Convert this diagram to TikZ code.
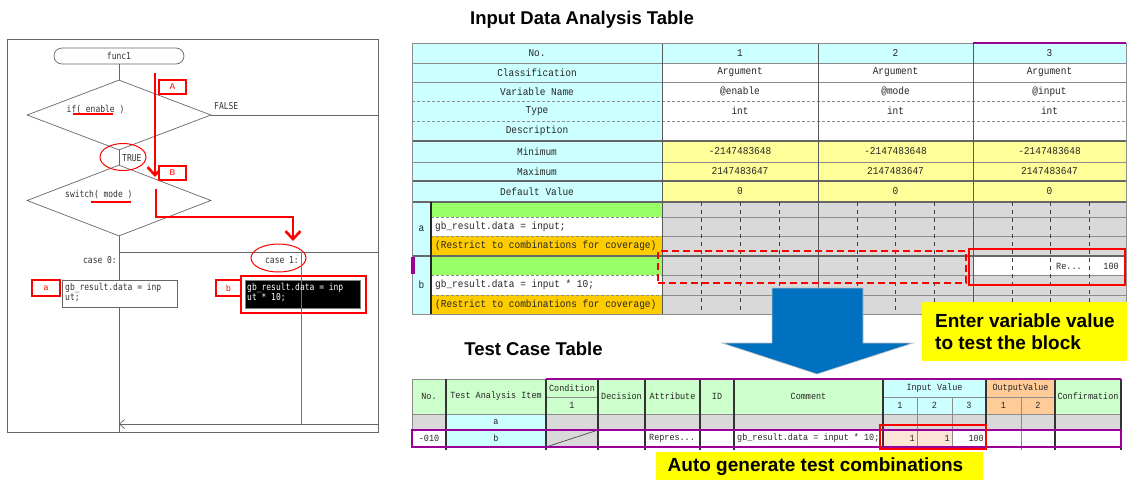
\documentclass[tikz,border=0pt]{standalone}
\usepackage{fontspec}
\setmainfont{Liberation Sans}
\newfontfamily\fcmono[FakeStretch=0.84]{DejaVu Sans Mono}
\newfontfamily\tbmono[FakeStretch=0.9]{Liberation Mono}
\usetikzlibrary{shapes.geometric,arrows.meta}
\definecolor{cyanc}{HTML}{CCFFFF}
\definecolor{yelc}{HTML}{FFFF99}
\definecolor{grnc}{HTML}{99FF66}
\definecolor{orgc}{HTML}{FFCC00}
\definecolor{grayc}{HTML}{D9D9D9}
\definecolor{hdrg}{HTML}{CCFFCC}
\definecolor{peach}{HTML}{FFCC99}
\definecolor{lpeach}{HTML}{FCE4D6}
\definecolor{purp}{HTML}{990099}
\definecolor{arrowblue}{HTML}{0070C0}
\definecolor{callout}{HTML}{FFFF00}
\newcommand\tblfont{\tbmono\fontsize{10.5}{12}\selectfont}
\newcommand\cellnode[7]{\node[inner sep=0pt,outer sep=0pt,minimum width={(#4)-(#2)},minimum height={(#5)-(#3)},#6] (#1) at ({((#2)+(#4))/2},{((#3)+(#5))/2}) {#7};}
\begin{document}
\begin{tikzpicture}[x=1pt,y=-1pt,
  fcline/.style={draw=black!60,line width=0.7pt},
  fctext/.style={font=\fcmono\fontsize{9.5}{10}\selectfont,text=black!80,inner sep=0pt},
  redlbl/.style={draw=red,line width=1.3pt,fill=white,text=red,font=\fontsize{8.5}{9}\selectfont},
  redarr/.style={draw=red,line width=2.6pt,-{Straight Barb[length=8pt,width=15pt]}},
  tc/.style={inner sep=0pt,font=\tblfont,text=black!85},
  tgrid/.style={draw=black!45,line width=0.7pt},
  tthick/.style={draw=black!60,line width=1.6pt},
  tvert/.style={draw=black!65,line width=0.9pt},
  bvert/.style={draw=black!80,line width=1.3pt},
  titlefont/.style={font=\bfseries\fontsize{18.5}{20}\selectfont},
  callfont/.style={font=\bfseries\fontsize{19}{22}\selectfont,align=left,inner sep=0pt}]
\useasboundingbox (0,0) rectangle (1127,480);
\fill[white] (0,0) rectangle (1127,480);

% ================= flowchart =================
\draw[fcline] (7,39) rectangle (378,432);
\node[fcline,rounded corners=8pt,minimum width=130,minimum height=16,fctext] (func) at (119,56) {func1};
\node[diamond,fcline,minimum width=184,minimum height=70,inner sep=0pt] (dif) at (119,115) {};
\node[diamond,fcline,minimum width=184,minimum height=71,inner sep=0pt] (dsw) at (119,200.5) {};
\coordinate (fbot) at (119,432);
\coordinate (fright) at (378,115);
\coordinate (cjl) at (119,252);
\coordinate (cjr) at (378,252);
\coordinate (c1top) at (301,252);
\coordinate (c1bot) at (301,424);
\coordinate (retr) at (378,424);
\coordinate (retl) at (119,424);
\draw[fcline] (func.south) -- (dif.north);
\draw[fcline] (dif.south) -- (dsw.north);
\draw[fcline] (dsw.south) -- (fbot);
\draw[fcline] (dif.east) -- (fright);
\draw[fcline] (cjl) -- (cjr);
\draw[fcline,-{Straight Barb[length=5pt,width=9pt,line width=0.7pt]}] (retr) -- (retl);
\node[fctext,anchor=west] (tif) at (66.5,109) {if( enable )};
\node[fctext,anchor=west] (tsw) at (65,195) {switch( mode )};
\draw[red,line width=1.2pt] (73,114) -- (113,114);
\draw[red,line width=1.2pt] (91,202) -- (131,202);
\node[fctext,anchor=west] (tfalse) at (214,106) {FALSE};
\node[fctext,anchor=west] (ttrue) at (122,158) {TRUE};
\node[fctext,anchor=east] (tc0) at (117,260) {case 0:};
\node[fctext,anchor=east] (tc1) at (299,260) {case 1:};
\node[ellipse,draw=red,line width=1pt,minimum width=46,minimum height=27,inner sep=0pt] (etrue) at (123,157) {};
\node[ellipse,draw=red,line width=1pt,minimum width=55,minimum height=28,inner sep=0pt] (ecase) at (278.5,258) {};
% code boxes
\cellnode{codea}{62}{280}{177}{307}{fcline,fill=white}{}
\node[fctext,anchor=north west,align=left] (codeatxt) at (65,283) {gb\_result.data = inp\\ut;};
\cellnode{codebred}{241}{276}{366}{313}{draw=red,line width=2.5pt,fill=white}{}
\cellnode{codeb}{245}{280}{360}{308}{draw=black!50,fill=black}{}
\draw[black!55,line width=0.7pt] (c1top) -- (c1bot);
\node[fctext,text=white,anchor=north west,align=left] (codebtxt) at (247,283) {gb\_result.data = inp\\ut * 10;};
\cellnode{la}{32}{280}{60}{296}{redlbl}{a}
\cellnode{lbb}{216}{280}{241}{296}{redlbl}{b}
% red path arrows
\coordinate (arA1) at (155,73);
\coordinate (arA2) at (155,177);
\coordinate (arB1) at (156,189);
\coordinate (arBk) at (156,217);
\coordinate (arB2) at (293,241);
\draw[redarr] (arA1) -- (arA2);
\draw[redarr] (arB1) -- (arBk) -| (arB2);
\cellnode{lA}{159}{80}{186}{94}{redlbl}{A}
\cellnode{lB}{159}{166}{186}{180}{redlbl}{B}

% ================= input data analysis table =================
\node[titlefont] (title1) at (582,20) {Input Data Analysis Table};
\cellnode{lno}{412}{43}{662}{63}{tc,fill=cyanc}{No.}
\cellnode{lcls}{412}{63}{662}{82}{tc,fill=cyanc}{Classification}
\cellnode{lvar}{412}{82}{662}{101}{tc,fill=cyanc}{Variable Name}
\cellnode{ltyp}{412}{101}{662}{121}{tc,fill=cyanc}{Type}
\cellnode{ldsc}{412}{121}{662}{141}{tc,fill=cyanc}{Description}
\cellnode{lmin}{412}{141}{662}{162}{tc,fill=cyanc}{Minimum}
\cellnode{lmax}{412}{162}{662}{181}{tc,fill=cyanc}{Maximum}
\cellnode{ldef}{412}{181}{662}{202}{tc,fill=cyanc}{Default Value}
\foreach \i/\xa/\xb/\vn in {1/662/818/@enable,2/818/973/@mode,3/973/1126/@input}{
  \cellnode{no\i}{\xa}{43}{\xb}{63}{tc,fill=cyanc}{\i}
  \cellnode{cl\i}{\xa}{63}{\xb}{82}{tc,fill=white}{Argument}
  \cellnode{vn\i}{\xa}{82}{\xb}{101}{tc,fill=white}{\vn}
  \cellnode{ty\i}{\xa}{101}{\xb}{121}{tc,fill=white}{int}
  \cellnode{ds\i}{\xa}{121}{\xb}{141}{tc,fill=white}{}
  \cellnode{mn\i}{\xa}{141}{\xb}{162}{tc,fill=yelc}{-2147483648}
  \cellnode{mx\i}{\xa}{162}{\xb}{181}{tc,fill=yelc}{2147483647}
  \cellnode{dv\i}{\xa}{181}{\xb}{202}{tc,fill=yelc}{0}
}
\cellnode{blka}{412}{202}{431}{256}{tc,fill=cyanc}{a}
\cellnode{blkb}{412}{256}{431}{314}{tc,fill=cyanc}{b}
\cellnode{ga}{431}{202}{662}{217}{fill=grnc}{}
\cellnode{wa}{431}{217}{662}{236}{fill=white}{}
\cellnode{oa}{431}{236}{662}{256}{fill=orgc}{}
\cellnode{gb}{431}{256}{662}{275}{fill=grnc}{}
\cellnode{wb}{431}{275}{662}{295}{fill=white}{}
\cellnode{ob}{431}{295}{662}{314}{fill=orgc}{}
\cellnode{grayarea}{662}{202}{1126}{314}{fill=grayc}{}
\cellnode{inval}{973}{256.5}{1126}{275}{fill=white,draw=purp,line width=0.8pt}{}
% grid
\foreach \y in {63,82,162} \draw[tgrid] (412,\y) -- (1126,\y);
\foreach \y in {101,121} \draw[tgrid,dash pattern=on 3pt off 2pt] (412,\y) -- (1126,\y);
\foreach \y in {141,181,202,256} \draw[tthick] (412,\y) -- (1126,\y);
\foreach \y in {217,236,275,295} {
  \draw[tgrid,dash pattern=on 3pt off 2pt] (431,\y) -- (662,\y);
  \draw[tgrid] (662,\y) -- (1126,\y);
}
\foreach \x in {701,740,779,857,895,934,1012,1050,1089}
  \draw[black!75,line width=0.6pt,dash pattern=on 4pt off 4pt] (\x,202) -- (\x,314);
\foreach \x in {662,818,973} \draw[tvert] (\x,43) -- (\x,314);
\draw[tgrid] (412,43) rectangle (1126,314);
\draw[black!85,line width=1.5pt] (431,202) -- (431,314);
\draw[purp,line width=2.5pt] (973,43) -- (1126,43);
\fill[purp] (411,257) rectangle (414.5,274);
\node[tc,anchor=west] (tca) at (435,226.5) {gb\_result.data = input;};
\node[tc,anchor=west] (tra) at (435,246) {(Restrict to combinations for coverage)};
\node[tc,anchor=west] (tcb) at (435,285) {gb\_result.data = input * 10;};
\node[tc,anchor=west] (trb) at (435,304.5) {(Restrict to combinations for coverage)};
\node[tc,font=\tbmono\fontsize{9.5}{10}\selectfont,anchor=west] (tre) at (1056,266) {Re...};
\node[tc,font=\tbmono\fontsize{9.5}{10}\selectfont,anchor=east] (thund) at (1119,266) {100};
\cellnode{selA}{658}{251}{966}{283}{draw=red,line width=2.3pt,dash pattern=on 7pt off 4pt}{}
\cellnode{selB}{969}{249}{1125}{285}{draw=red,line width=2.3pt}{}

% blue arrow
\draw[fill=arrowblue,draw=black!25,line width=0.6pt] (772,288) -- (863,288) -- (863,343) -- (913,343) -- (817,374) -- (722,343) -- (772,343) -- cycle;
% callout 1
\cellnode{call1}{922}{302}{1127}{361}{fill=callout}{}
\node[callfont,anchor=west] (call1txt) at (935,332) {Enter variable value\\to test the block};

% ================= test case table =================
\node[titlefont] (title2) at (533.5,349) {Test Case Table};
\begin{scope}
\renewcommand\tblfont{\tbmono\fontsize{9.4}{11}\selectfont}
\cellnode{hno}{412}{379}{446}{414}{tc,fill=hdrg}{No.}
\cellnode{hitem}{446}{379}{546}{414}{tc,fill=hdrg}{Test Analysis Item}
\cellnode{hcond}{546}{379}{598}{397}{tc,fill=hdrg}{Condition}
\cellnode{hcondone}{546}{397}{598}{414}{tc,fill=hdrg}{1}
\cellnode{hdec}{598}{379}{645}{414}{tc,fill=hdrg}{Decision}
\cellnode{hattr}{645}{379}{700}{414}{tc,fill=hdrg}{Attribute}
\cellnode{hid}{700}{379}{734}{414}{tc,fill=hdrg}{ID}
\cellnode{hcom}{734}{379}{883}{414}{tc,fill=hdrg}{Comment}
\cellnode{hin}{883}{379}{986}{397}{tc,fill=cyanc}{Input Value}
\cellnode{hinone}{883}{397}{917}{414}{tc,fill=cyanc}{1}
\cellnode{hintwo}{917}{397}{952}{414}{tc,fill=cyanc}{2}
\cellnode{hinthree}{952}{397}{986}{414}{tc,fill=cyanc}{3}
\cellnode{hout}{986}{379}{1055}{397}{tc,fill=peach}{OutputValue}
\cellnode{houtone}{986}{397}{1021}{414}{tc,fill=peach}{1}
\cellnode{houttwo}{1021}{397}{1055}{414}{tc,fill=peach}{2}
\cellnode{hconf}{1055}{379}{1121}{414}{tc,fill=hdrg}{Confirmation}
% row a
\cellnode{ano}{412}{414}{446}{430}{tc,fill=grayc}{}
\cellnode{aitem}{446}{414}{546}{430}{tc,fill=cyanc}{a}
\cellnode{arest}{546}{414}{1121}{430}{fill=grayc}{}
% row b
\cellnode{bno}{412}{430}{446}{447}{tc,fill=white}{-010}
\cellnode{bitem}{446}{430}{546}{447}{tc,fill=cyanc}{b}
\cellnode{bcond}{546}{430}{598}{447}{fill=grayc}{}
\cellnode{bdec}{598}{430}{645}{447}{fill=white}{}
\cellnode{battr}{645}{430}{700}{447}{fill=white}{}
\cellnode{bid}{700}{430}{734}{447}{fill=white}{}
\cellnode{bcom}{734}{430}{883}{447}{fill=white}{}
\cellnode{binone}{883}{430}{917}{447}{fill=lpeach}{}
\cellnode{bintwo}{917}{430}{952}{447}{fill=lpeach}{}
\cellnode{binthree}{952}{430}{986}{447}{fill=white}{}
\cellnode{boutone}{986}{430}{1021}{447}{fill=white}{}
\cellnode{bouttwo}{1021}{430}{1055}{447}{fill=white}{}
\cellnode{bconf}{1055}{430}{1121}{447}{fill=white}{}
\draw[black!70,line width=0.7pt] (bcond.south west) -- (bcond.north east);
\node[tc,anchor=west] (battrtxt) at (649,438.5) {Repres...};
\node[tc,anchor=west] (bcomtxt) at (737,438.5) {gb\_result.data = input * 10;};
\node[tc,anchor=east] (binonetxt) at (915,438.5) {1};
\node[tc,anchor=east] (bintwotxt) at (950,438.5) {1};
\node[tc,anchor=east] (binthreetxt) at (984,438.5) {100};
% grid
\draw[tgrid] (412,379) -- (546,379);
\draw[tgrid] (546,397) -- (598,397);
\draw[tgrid] (883,397) -- (1055,397);
\foreach \y in {414,430,447} \draw[tgrid] (412,\y) -- (1121,\y);
\foreach \x in {917,952,1021} \draw[tgrid] (\x,397) -- (\x,450);
\foreach \x in {446,546,598,645,700,734,883,986,1055} \draw[bvert] (\x,379) -- (\x,450);
\draw[tgrid] (412,379) -- (412,447);
\draw[bvert] (1121,379) -- (1121,450);
\draw[purp,line width=2pt] (546,379) -- (1121,379);
\draw[purp,line width=1.3pt] (412,430) rectangle (1121,447);
\draw[purp,line width=2.5pt] (412,430) -- (412,447);
\end{scope}
\cellnode{selC}{880}{425}{986}{449}{draw=red,line width=2pt}{}
% callout 2
\cellnode{call2}{656}{452}{983}{480}{fill=callout}{}
\node[callfont] (call2txt) at (815.5,467) {Auto generate test combinations};
\end{tikzpicture}
\end{document}
